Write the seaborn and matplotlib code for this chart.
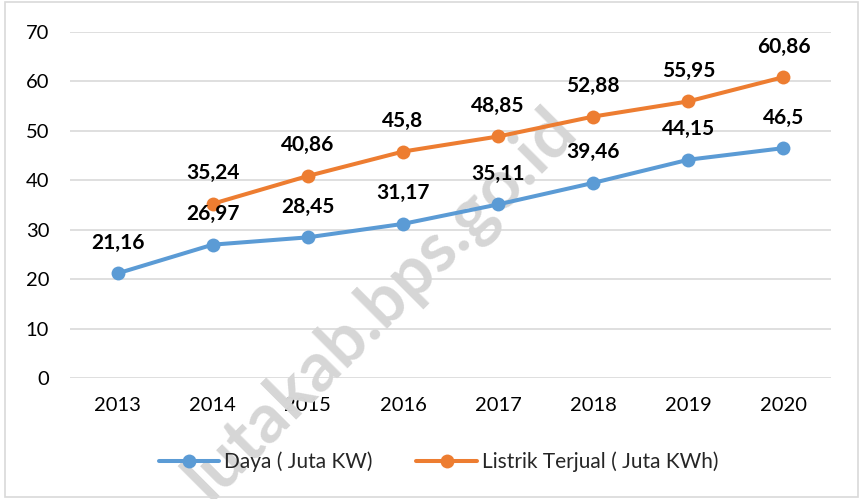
import numpy as np
import pandas as pd
import matplotlib
matplotlib.use('Agg')
import matplotlib.pyplot as plt
import matplotlib.patches as patches
import seaborn as sns

# data
years = [2013, 2014, 2015, 2016, 2017, 2018, 2019, 2020]
daya = [21.16, 26.97, 28.45, 31.17, 35.11, 39.46, 44.15, 46.5]
listrik = [np.nan, 35.24, 40.86, 45.8, 48.85, 52.88, 55.95, 60.86]
series_names = ['Daya ( Juta KW)', 'Listrik Terjual ( Juta KWh)']
colors = ['#5B9BD5', '#ED7D31']

df = pd.DataFrame({'tahun': years, series_names[0]: daya, series_names[1]: listrik})
long_df = df.melt(id_vars='tahun', var_name='seri', value_name='nilai').dropna()

sns.set_style('white')
plt.rcParams['font.family'] = ['Lato', 'DejaVu Sans']

fig = plt.figure(figsize=(8.6, 4.99), dpi=100)
ax = fig.add_axes([0.0814, 0.2425, 0.8849, 0.6935])

sns.lineplot(data=long_df, x='tahun', y='nilai', hue='seri', hue_order=series_names,
             palette=colors, marker='o', markersize=10, markeredgewidth=0,
             linewidth=2.9, ax=ax, zorder=3)

# value labels above each point
for name in series_names:
    for x, v in zip(df['tahun'], df[name]):
        if np.isnan(v):
            continue
        ax.annotate(('%g' % v).replace('.', ','), (x, v), xytext=(0, 22),
                    textcoords='offset points', ha='center', va='center',
                    fontsize=15, fontweight='bold', color='black', zorder=5)

ax.set_xlim(2012.5, 2020.5)
ax.set_ylim(0, 70)
ax.set_yticks(range(0, 71, 10))
ax.set_xticks(years)
ax.set_xlabel('')
ax.set_ylabel('')
ax.grid(axis='y', color='#D9D9D9', linewidth=1.2)
ax.set_axisbelow(True)
for s in ax.spines.values():
    s.set_visible(False)
ax.tick_params(axis='both', length=0, labelsize=14.5, colors='#000000')
ax.tick_params(axis='y', pad=15)
ax.tick_params(axis='x', pad=14)

# watermark behind the lines (runs off the bottom edge like the source)
ax.text(0.443, 0.39, 'lutakab.bps.go.id', transform=fig.transFigure,
        rotation=45, ha='center', va='center', fontsize=50, fontweight='bold',
        color='#D6D6D6', zorder=1, clip_on=False)

handles, labels = ax.get_legend_handles_labels()
ax.legend(handles, labels, loc='center', bbox_to_anchor=(0.51, 0.074),
          bbox_transform=fig.transFigure, ncol=2, frameon=False, fontsize=15,
          handlelength=2.9, handletextpad=0.25, columnspacing=2.1)

# light border around the chart
fig.patches.append(patches.Rectangle((0.006, 0.004), 0.992, 0.992, transform=fig.transFigure,
                                     fill=False, edgecolor='#D9D9D9', linewidth=1.2))

fig.savefig('out.png', dpi=100)
